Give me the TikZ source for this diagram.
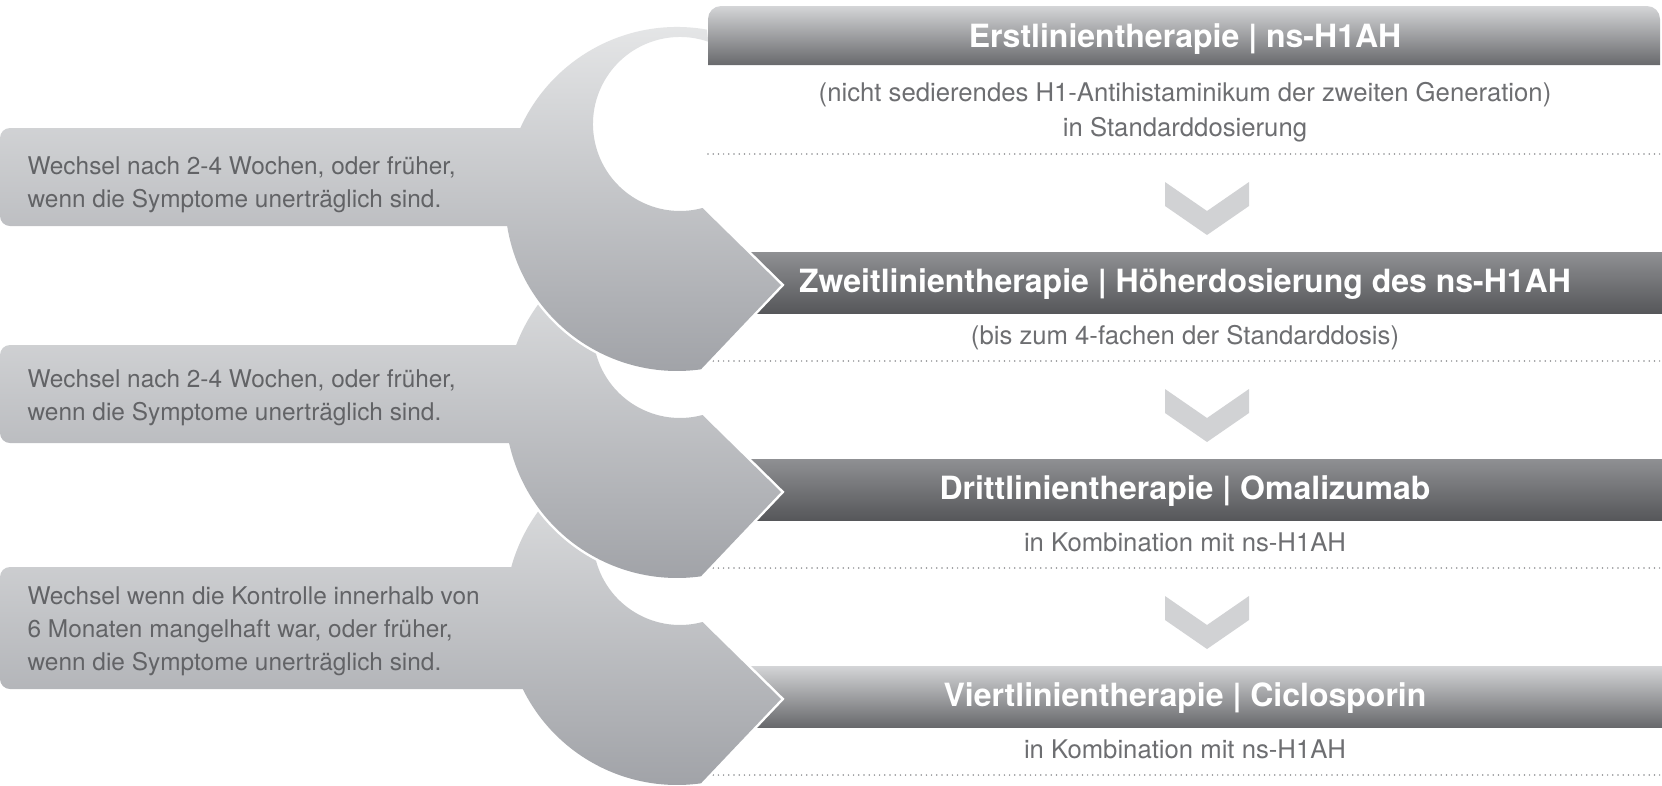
\documentclass[tikz,border=0pt]{standalone}
\usepackage{fontspec}
\setmainfont{TeX Gyre Heros}
\usetikzlibrary{positioning}
\definecolor{cresTop}{RGB}{231,232,233}
\definecolor{cresBot}{RGB}{160,162,167}
\definecolor{barLightTop}{RGB}{212,213,215}
\definecolor{barLightBot}{RGB}{104,105,108}
\definecolor{barDarkTop}{RGB}{143,144,147}
\definecolor{barDarkBot}{RGB}{86,87,90}
\definecolor{chevGray}{RGB}{209,210,212}
\definecolor{noteGray}{RGB}{98,99,102}
\definecolor{subGray}{RGB}{109,110,113}
\definecolor{dotGray}{RGB}{140,141,144}

\begin{document}
\begin{tikzpicture}[
    x=1pt, y=-1pt,
    every node/.style = {inner sep=0pt, outer sep=0pt},
    node distance     = 12pt,
    headFont/.style   = {font=\fontsize{32}{38}\selectfont\bfseries, text=white, text height=19pt, text depth=0pt},
    headBar/.style    = {headFont, minimum width=954pt, minimum height=61pt, top color=barDarkTop, bottom color=barDarkBot},
    lightBar/.style   = {top color=barLightTop, bottom color=barLightBot},
    subText/.style    = {font=\fontsize{25.7}{35}\selectfont, text=subGray, align=center},
    subLine/.style    = {subText, text height=19pt, text depth=6pt},
    noteText/.style   = {font=\fontsize{24.4}{33}\selectfont, text=noteGray, align=left, anchor=west},
    crescent/.style   = {top color=cresTop, bottom color=cresBot},
    cutEdge/.style    = {draw=white, line width=5pt},
    chevron/.style    = {fill=chevGray},
    dotline/.style    = {draw=dotGray, line width=1.7pt, line cap=round, dash pattern=on 0pt off 5.2pt}
]
    \useasboundingbox (0,0) rectangle (1662,785);

    \node[headBar] (head2) at (1185,282.5) {Zweitlinientherapie | Höherdosierung des ns-H1AH};
    \node[headBar] (head3) at (1185,489.5) {Drittlinientherapie | Omalizumab};
    \node[headBar, lightBar] (head4) at (1185,696.5) {Viertlinientherapie | Ciclosporin};

    \node[subText] (sub1) at (1185,112.5) {(nicht sedierendes H1-Antihistaminikum der zweiten Generation)\\in Standarddosierung};
    \node[subLine, below=of head2] (sub2) {(bis zum 4-fachen der Standarddosis)};
    \node[subLine, below=of head3] (sub3) {in Kombination mit ns-H1AH};
    \node[subLine, below=of head4] (sub4) {in Kombination mit ns-H1AH};

    \foreach \y in {154,361,568,775}
        \draw[dotline] (708,\y) -- (1662,\y);

    \foreach \k in {0,1,2}
        \fill[chevron, shift={(0,207*\k)}] (1165,182) -- (1207,211) -- (1249,182) -- (1249,206) -- (1207,235) -- (1165,206) -- cycle;

    % bent arrows, lowest first so each one lies over the next
    \foreach \k/\bt/\bb in {2/153/275, 1/138/236, 0/128/226} {
        \begin{scope}[shift={(0,207*\k)}]
            \draw[cutEdge] (706.9,29.6) arc[start angle=-80, end angle=-278, radius=172] -- (781,285) -- (702.5,208) arc[start angle=75, end angle=289, radius=87] -- cycle;
            \shade[crescent] [rounded corners=10pt] (560,\bt) -- (0,\bt) -- (0,\bb) -- (560,\bb) -- cycle
                [sharp corners] (706.9,29.6) arc[start angle=-80, end angle=-278, radius=172] -- (781,285) -- (702.5,208) arc[start angle=75, end angle=289, radius=87] -- cycle;
        \end{scope}
    }

    \shade[lightBar] (708,65) -- (708,19) arc[start angle=180, end angle=270, radius=13] -- (1647,6) arc[start angle=270, end angle=360, radius=13] -- (1660,65) -- cycle;
    \node[headFont] (head1) at (1185,37.5) {Erstlinientherapie | ns-H1AH};

    \node[noteText] (note1) at (27.6,185) {Wechsel nach 2-4 Wochen, oder früher,\\wenn die Symptome unerträglich sind.};
    \node[noteText] (note2) at (27.6,397.7) {Wechsel nach 2-4 Wochen, oder früher,\\wenn die Symptome unerträglich sind.};
    \node[noteText] (note3) at (27.6,631.7) {Wechsel wenn die Kontrolle innerhalb von\\6 Monaten mangelhaft war, oder früher,\\wenn die Symptome unerträglich sind.};
\end{tikzpicture}
\end{document}
